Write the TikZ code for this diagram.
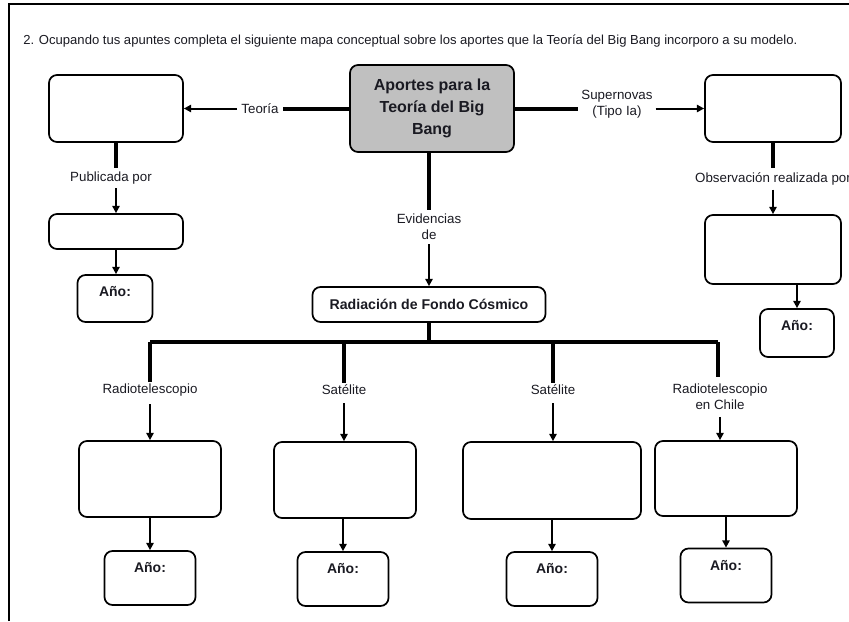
\documentclass[tikz,border=0pt]{standalone}
\usepackage{fontspec}
\setmainfont{Liberation Sans}
\usetikzlibrary{arrows.meta}
\definecolor{ink}{HTML}{1A1A22}
\definecolor{hubgray}{HTML}{C0C0C0}
\begin{document}
\begin{tikzpicture}[x=0.75pt,y=-0.75pt,
  every node/.style={text=ink},
  bx/.style n args={2}{draw=black, line width=1.3pt, rounded corners=6pt, fill=white,
     minimum width=#1*0.75pt, minimum height=#2*0.75pt, inner sep=0pt},
  yeartext/.style={font=\bfseries\fontsize{10.5}{12}\selectfont},
  lbl/.style={font=\fontsize{10}{12}\selectfont, align=center, inner sep=3pt},
  thick link/.style={line width=3pt, draw=black},
  thin arrow/.style={line width=1.5pt, draw=black, -{Triangle[length=5.5pt,width=5.5pt]}},
]
\useasboundingbox (0,0) rectangle (849,621);
% page frame (top and left edges only)
\draw[line width=2.2pt] (9,621) -- (9,4) -- (849,4);

% heading
\node[anchor=base west, inner sep=0pt, font=\fontsize{9.8}{11}\selectfont] (heading) at (23,44)
  {2. Ocupando tus apuntes completa el siguiente mapa conceptual sobre los aportes que la Teoría del Big Bang incorporo a su modelo.};

% central concept
\node[bx={164}{87}, fill=hubgray, align=center, font=\bfseries\fontsize{12}{16.5}\selectfont] (main) at (432,108.5)
  {Aportes para la\\Teoría del Big\\Bang};

% left branch
\node[bx={134}{67}] (tl) at (116,108.5) {};
\node[lbl] (teoria) at (260,108.5) {Teoría};
\node[lbl] (pubpor) at (111,178) {Publicada por};
\node[bx={134}{35}] (pub) at (116,231.5) {};
\node[bx={75}{47}] (ano1) at (115,298.5) {};
\node[yeartext, anchor=north] at ([yshift=-6pt]ano1.north) {Año:};

\draw[thick link] (main.west) -- (teoria.east);
\draw[thin arrow] (teoria.west) -- (tl.east);
\draw[thick link] (tl.south) -- (tl.south |- pubpor.north);
\draw[thin arrow] (tl.south |- pubpor.south) -- (pub.north);
\draw[thin arrow] (pub.south) -- (pub.south |- ano1.north);

% right branch
\node[lbl, inner sep=2pt] (super) at (617,104) {Supernovas\\(Tipo Ia)};
\node[bx={136}{67}] (tr) at (773,108.5) {};
\node[lbl] (obspor) at (773,179) {Observación realizada por};
\node[bx={136}{69}] (obs) at (773,249.5) {};
\node[bx={74}{48}] (ano2) at (797,333) {};
\node[yeartext, anchor=north] at ([yshift=-6pt]ano2.north) {Año:};

\draw[thick link] (main.east) -- (main.east -| super.west);
\draw[thin arrow] (main.east -| super.east) -- (tr.west);
\draw[thick link] (tr.south) -- (tr.south |- obspor.north);
\draw[thin arrow] (tr.south |- obspor.south) -- (obs.north);
\draw[thin arrow] (ano2.north |- obs.south) -- (ano2.north);

% evidence branch
\node[lbl] (evid) at (429,227) {Evidencias\\de};
\node[bx={233}{35}, font=\bfseries\fontsize{10.6}{12}\selectfont] (rad) at (429,304.5) {Radiación de Fondo Cósmico};
\draw[thick link] (evid.north |- main.south) -- (evid.north);
\draw[thin arrow] (evid.south) -- (rad.north);

\coordinate (bus) at (429,342);
\draw[thick link] (rad.south) -- (bus);
\draw[thick link] (150,342) -- (718,342);

\node[lbl] (rt1) at (150,390) {Radiotelescopio};
\node[lbl] (sat1) at (344,390) {Satélite};
\node[lbl] (sat2) at (553,390) {Satélite};
\node[lbl, inner sep=1pt] (rt2) at (720,397) {Radiotelescopio\\en Chile};

\draw[thick link] (rt1.north |- bus) -- ([yshift=-2pt]rt1.north);
\draw[thick link] (sat1.north |- bus) -- ([yshift=-2pt]sat1.north);
\draw[thick link] (sat2.north |- bus) -- ([yshift=-2pt]sat2.north);
\draw[thick link] (718,342) -- (718,377);

\node[bx={142}{76}] (b1) at (150,479) {};
\node[bx={142}{76}] (b2) at (345,480) {};
\node[bx={178}{77}] (b3) at (552,480.5) {};
\node[bx={142}{75}] (b4) at (726,478.5) {};

\draw[thin arrow] ([yshift=-3pt]rt1.south) -- (rt1.south |- b1.north);
\draw[thin arrow] ([yshift=-3pt]sat1.south) -- (sat1.south |- b2.north);
\draw[thin arrow] ([yshift=-3pt]sat2.south) -- (sat2.south |- b3.north);
\draw[thin arrow] ([yshift=-4pt]rt2.south) -- (rt2.south |- b4.north);

\node[bx={91}{54}] (a1) at (150,578) {};
\node[bx={91}{54}] (a2) at (343,579) {};
\node[bx={91}{54}] (a3) at (552,579) {};
\node[bx={91}{54}] (a4) at (726,575.5) {};
\foreach \a in {a1,a2,a3,a4}
  \node[yeartext, anchor=north] at ([yshift=-6pt]\a.north) {Año:};

\draw[thin arrow] (a1.north |- b1.south) -- (a1.north);
\draw[thin arrow] (a2.north |- b2.south) -- (a2.north);
\draw[thin arrow] (a3.north |- b3.south) -- (a3.north);
\draw[thin arrow] (a4.north |- b4.south) -- (a4.north);
\end{tikzpicture}
\end{document}
